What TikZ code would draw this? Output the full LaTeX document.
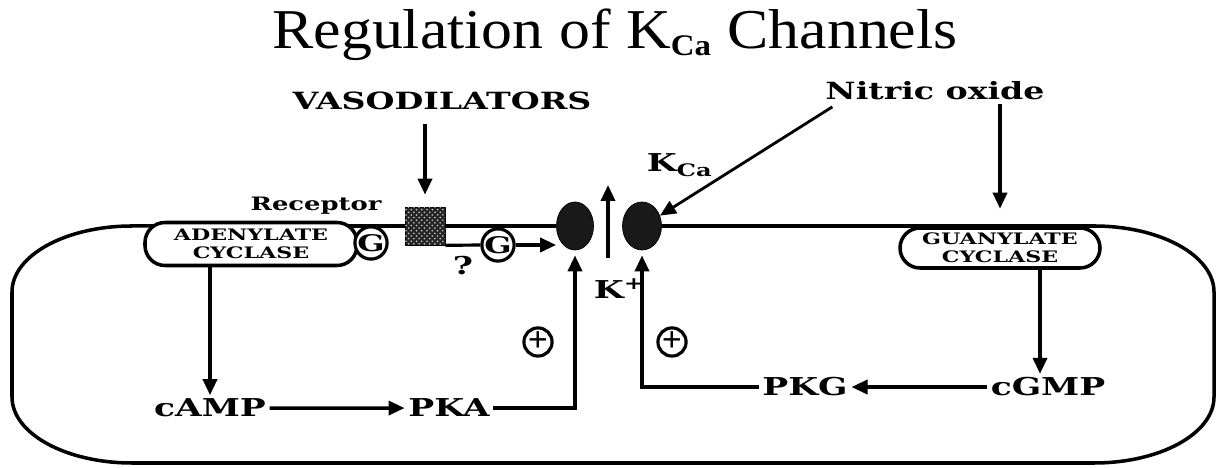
\documentclass[tikz,border=0pt]{standalone}
\usepackage{fontspec}
\usepackage{graphicx}
\setmainfont{Liberation Serif}
\newfontfamily\titlefont[FakeStretch=1.1]{Liberation Serif}
\newfontfamily\lblfont[FakeStretch=1.4]{DejaVu Serif}
\usetikzlibrary{arrows.meta,shapes.geometric,patterns,calc}

\begin{document}
\begin{tikzpicture}[
  lbl/.style={font=\lblfont\bfseries\fontsize{14}{16}\selectfont, inner sep=2pt},
  small/.style={font=\lblfont\bfseries\fontsize{10.5}{12}\selectfont, inner sep=1pt},
  enz/.style={draw, line width=2pt, fill=white, rounded corners=0.4cm, align=center,
              font=\lblfont\bfseries\fontsize{9}{10}\selectfont, inner sep=0pt},
  gprot/.style={circle, draw, line width=1.8pt, fill=white, minimum size=0.54cm, inner sep=0pt,
              font=\lblfont\bfseries\fontsize{13}{13}\selectfont},
  chan/.style={ellipse, fill=black!90, draw=black, minimum width=0.74cm, minimum height=0.96cm, inner sep=0pt},
  plus/.style={circle, draw, line width=1.8pt, minimum size=0.48cm, inner sep=0pt,
              font=\bfseries\fontsize{20}{20}\selectfont},
  arr/.style={line width=2pt, -{Triangle[length=0.32cm, width=0.28cm]}},
]
\useasboundingbox (0,0) rectangle (24.34,9.36);
\def\memy{4.84} % membrane height

% title
\node[font=\titlefont\fontsize{32}{36}\selectfont] (title) at (12.30,8.66)
  {Regulation of K\textsubscript{\fontsize{17}{17}\selectfont\bfseries Ca} Channels};

% channels
\node[chan] (LK) at (11.50,\memy) {};
\node[chan, minimum width=0.78cm] (RK) at (12.84,\memy) {};

% cell outline, open at the pore
\draw[line width=2pt] (RK.east) -- (21.88,\memy)
  arc[start angle=90, end angle=0, x radius=2.4, y radius=1.32] -- (24.28,1.42)
  arc[start angle=0, end angle=-90, x radius=2.4, y radius=1.32] -- (2.64,0.10)
  arc[start angle=270, end angle=180, x radius=2.4, y radius=1.32] -- (0.24,3.52)
  arc[start angle=180, end angle=90, x radius=2.4, y radius=1.32] -- (LK.west);

% membrane proteins
\node[enz, minimum width=4.24cm, minimum height=0.86cm] (AC) at (5.02,4.48) {ADENYLATE\\CYCLASE};
\node[enz, minimum width=4.0cm, minimum height=0.8cm] (GC) at (20.00,4.40) {GUANYLATE\\CYCLASE};
\node[gprot] (G1) at (7.42,4.50) {G};
\node[gprot] (G2) at (9.96,4.46) {G};
\node[draw, fill=black!85, minimum width=0.8cm, minimum height=0.76cm, inner sep=0pt,
  postaction={pattern=crosshatch dots, pattern color=white!60!gray}] (REC) at (8.50,\memy) {};

% labels
\node[lbl, font=\lblfont\bfseries\fontsize{13.5}{15}\selectfont, anchor=base] (VAS) at (8.84,7.16) {VASODILATORS};
\node[lbl, font=\lblfont\bfseries\fontsize{13.5}{15}\selectfont, anchor=base] (NO) at (18.70,7.36) {Nitric oxide};
\node[small, anchor=base] (RecL) at (6.32,5.14) {Receptor};
\node[lbl, anchor=base west] (KCa) at (12.86,5.92) {K\textsubscript{Ca}};
\node[lbl, anchor=base west] (Kp) at (11.80,3.38) {K\textsuperscript{+}};
\node[lbl, anchor=base] (q) at (9.26,3.86) {?};
\node[lbl, anchor=base] (cAMP) at (4.20,1.02) {cAMP};
\node[lbl, anchor=base] (PKA) at (8.98,1.02) {PKA};
\node[lbl, anchor=base] (PKG) at (16.10,1.44) {PKG};
\node[lbl, anchor=base] (cGMP) at (20.96,1.44) {cGMP};
\node[plus] (p1) at (10.76,2.52) {+};
\node[plus] (p2) at (13.44,2.52) {+};
\coordinate (kin) at (12.16,4.20);
\coordinate (kout) at (12.16,5.66);

% signalling arrows
\draw[arr, shorten <=0.2cm, shorten >=0.24cm] (VAS.south -| REC.north) -- (REC.north);
\draw[arr, line width=1.6pt, shorten <=0.1cm] ([xshift=0.3cm]NO.south west) -- (RK.30);
\draw[arr, shorten >=0.35cm] (NO.south -| GC.north) -- (GC.north);
\draw[line width=1.8pt] (REC.south east) -- (G2.west);
\draw[arr] (G2.east) -- (LK.west |- G2);
\draw[arr] (kin) -- (kout);
\draw[arr] (cAMP |- AC.south) -- (cAMP);
\draw[arr] (cAMP) -- (PKA);
\draw[arr, shorten >=0.1cm] (PKA) -| (LK);
\draw[arr] ([xshift=0.8cm]GC.south) -- ([xshift=0.8cm]GC.south |- cGMP.north);
\draw[arr] (cGMP) -- (PKG);
\draw[arr, shorten >=0.1cm] (PKG) -| (RK);
\end{tikzpicture}
\end{document}
